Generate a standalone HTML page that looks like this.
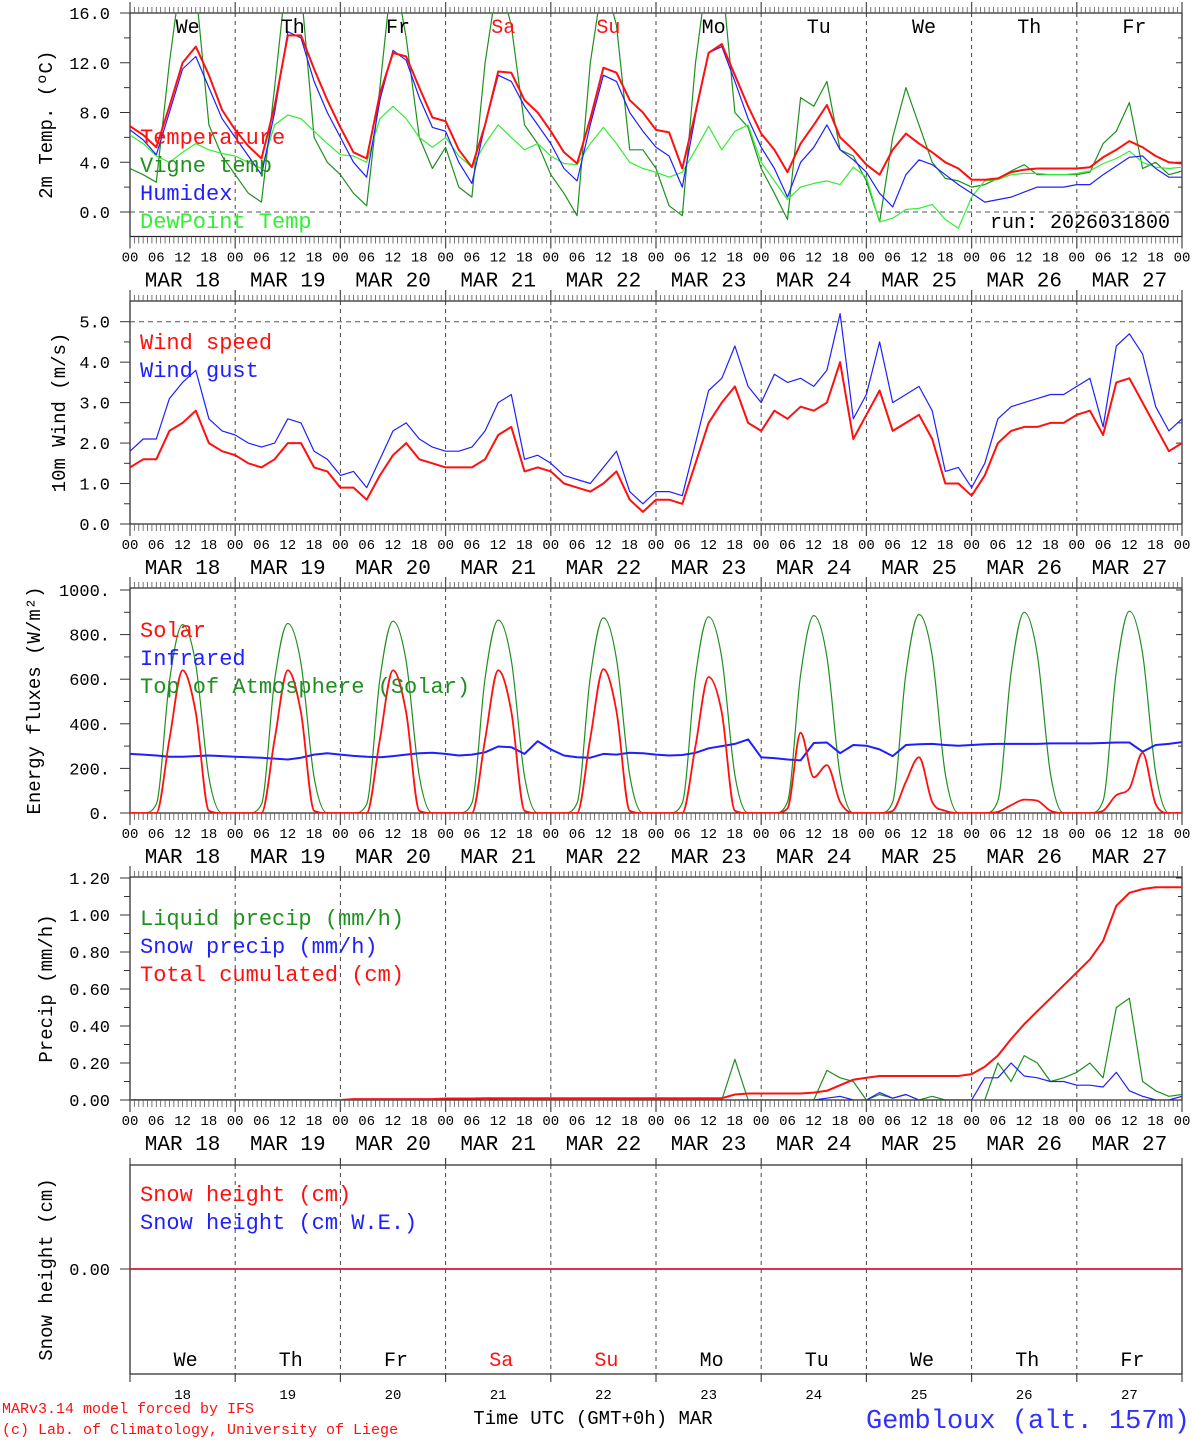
<!DOCTYPE html>
<html><head><meta charset="utf-8">
<style>
html,body{margin:0;padding:0;background:#fff;}
svg{display:block;font-family:"Liberation Mono",monospace;}
</style></head>
<body>
<svg id="chart" width="1194" height="1440" viewBox="0 0 1194 1440" xmlns="http://www.w3.org/2000/svg"></svg>
<script>
// ---------- data (3-hourly, 81 points, hour = 3*i from MAR 18 00 UTC) ----------
const dayNames = ["We","Th","Fr","Sa","Su","Mo","Tu","We","Th","Fr"];
const dayDates = ["18","19","20","21","22","23","24","25","26","27"];
const hourLabels = ["00","06","12","18"];
const tempTicks = [0,4,8,12,16];
const windTicks = [0,1,2,3,4,5];
const fluxTicks = [0,200,400,600,800,1000];
const precipTicks = [0,0.2,0.4,0.6,0.8,1.0,1.2];

const temperature = [6.9,6.2,5.2,8.5,12.0,13.3,11.0,8.2, 6.6,5.3,4.3,8.5,14.2,14.2,11.5,9.0, 6.8,4.8,4.3,9.5,12.8,12.5,10.0,7.6, 7.3,5.0,3.6,7.0,11.3,11.2,9.0,8.0, 6.5,4.8,3.9,7.5,11.6,11.2,9.0,8.0, 6.6,6.4,3.5,8.0,12.8,13.5,11.0,8.5, 6.3,5.0,3.2,5.5,7.0,8.6,6.0,5.0, 3.8,3.0,5.0,6.3,5.5,4.8,4.0,3.5, 2.6,2.6,2.7,3.2,3.4,3.5,3.5,3.5, 3.5,3.6,4.4,5.0,5.7,5.2,4.5,4.0,3.9];
const vigne = [3.5,3.0,2.4,12,20,18,7,4.5, 3,1.5,0.8,10,20,18,6,4, 3,1.5,0.5,10,20,14,6,3.5, 5.2,2,1.2,12,19,15,7,5.5, 3,1.5,-0.3,12,19,15,5,5, 3.5,0.5,-0.3,12,20,19,8,6.8, 3.5,1.5,-0.6,9.2,8.5,10.5,5,4.5, 2.5,-0.8,6,10,7,4,2.7,2.5, 2.0,2.2,2.7,3.3,3.8,3.0,3.0,3.0, 3.0,3.2,5.5,6.5,8.8,3.5,4.0,3.0,3.3];
const humidex = [6.6,5.8,4.6,8.0,11.5,12.5,10.0,7.5, 6.0,4.5,3.0,8.0,14.5,14.0,10.5,8.0, 6.0,4.0,2.8,9.0,13.0,12.2,9.2,6.8, 6.5,4.0,2.3,7.0,11.0,10.5,8.5,7.0, 5.5,3.5,2.5,7.0,11.0,10.5,8.0,6.5, 5.2,4.5,2.0,7.8,12.8,13.3,10.5,7.5, 5.2,3.5,1.2,4.0,5.2,7.0,5.0,4.2, 3.2,1.5,0.4,3.0,4.2,3.8,3.0,2.2, 1.5,0.8,1.0,1.2,1.6,2.0,2.0,2.0, 2.2,2.2,3.0,3.7,4.4,4.5,3.5,2.8,2.8];
const dewpoint = [6.2,5.5,4.5,4.0,4.8,5.5,5.0,4.7, 4.5,4.0,3.5,7.0,7.8,7.5,6.5,5.5, 4.6,4.5,4.0,7.5,8.5,7.5,6.0,5.2, 6.0,4.5,3.6,5.5,7.0,6.0,5.0,5.5, 4.5,3.9,3.8,5.5,6.8,5.5,4.0,3.5, 3.2,2.8,3.2,5.0,6.9,5.0,6.5,7.0, 4.0,2.5,1.0,2.0,2.3,2.5,2.2,3.6, 2.8,-0.8,-0.5,0.2,0.3,0.6,-0.6,-1.3, 1.2,2.5,2.6,3.0,3.1,3.1,3.0,3.0, 3.1,3.3,3.9,4.3,4.9,4.0,3.6,3.5,3.6];

const windSpeed = [1.4,1.6,1.6,2.3,2.5,2.8,2.0,1.8, 1.7,1.5,1.4,1.6,2.0,2.0,1.4,1.3, 0.9,0.9,0.6,1.2,1.7,2.0,1.6,1.5, 1.4,1.4,1.4,1.6,2.2,2.4,1.3,1.4, 1.3,1.0,0.9,0.8,1.0,1.3,0.6,0.3, 0.6,0.6,0.5,1.5,2.5,3.0,3.4,2.5, 2.3,2.8,2.6,2.9,2.8,3.0,4.0,2.1, 2.7,3.3,2.3,2.5,2.7,2.1,1.0,1.0, 0.7,1.2,2.0,2.3,2.4,2.4,2.5,2.5, 2.7,2.8,2.2,3.5,3.6,3.0,2.4,1.8,2.0];
const windGust = [1.8,2.1,2.1,3.1,3.5,3.8,2.6,2.3, 2.2,2.0,1.9,2.0,2.6,2.5,1.8,1.6, 1.2,1.3,0.9,1.6,2.3,2.5,2.1,1.9, 1.8,1.8,1.9,2.3,3.0,3.2,1.6,1.7, 1.5,1.2,1.1,1.0,1.4,1.8,0.8,0.5, 0.8,0.8,0.7,2.0,3.3,3.6,4.4,3.4, 3.0,3.7,3.5,3.6,3.4,3.8,5.2,2.6, 3.2,4.5,3.0,3.2,3.4,2.8,1.3,1.4, 0.9,1.5,2.6,2.9,3.0,3.1,3.2,3.2, 3.4,3.6,2.4,4.4,4.7,4.2,2.9,2.3,2.6];

const solar = [0,0,0,330,640,450,10,0, 0,0,0,330,640,450,10,0, 0,0,0,330,640,450,10,0, 0,0,0,330,640,455,10,0, 0,0,0,335,645,455,10,0, 0,0,0,300,610,450,10,0, 0,0,20,360,160,215,50,0, 0,0,10,140,250,50,10,0, 0,0,5,35,60,55,10,0, 0,0,10,80,110,270,40,0,0];
const infrared = [265,262,258,252,252,255,258,255, 252,250,248,244,240,248,262,268, 262,256,252,250,255,262,268,270, 265,258,262,272,298,295,265,322, 285,258,250,248,265,262,270,268, 262,258,260,270,290,300,310,330, 250,246,240,236,314,316,268,305, 302,285,255,305,308,310,305,302, 305,308,310,310,310,310,312,312, 312,312,314,316,316,275,305,310,318];
const toa = [0,0,40,590,845,665,160,0, 0,0,40,595,850,670,160,0, 0,0,40,600,860,680,165,0, 0,0,45,605,865,685,165,0, 0,0,45,610,875,690,170,0, 0,0,45,615,880,695,170,0, 0,0,50,620,885,700,170,0, 0,0,50,625,890,705,175,0, 0,0,55,630,900,710,175,0, 0,0,55,635,905,715,180,0,0];

const liquid = [0,0,0,0,0,0,0,0, 0,0,0,0,0,0,0,0, 0,0,0,0,0,0,0,0, 0,0,0,0.01,0,0,0,0, 0,0,0,0,0,0,0,0, 0,0,0,0,0,0,0.22,0, 0,0,0,0,0,0.16,0.12,0.1, 0,0.03,0.01,0.03,0,0.02,0,0, 0,0,0.2,0.1,0.24,0.2,0.1,0.12, 0.15,0.2,0.12,0.5,0.55,0.1,0.05,0.02,0.03];
const snowPrecip = [0,0,0,0,0,0,0,0, 0,0,0,0,0,0,0,0, 0,0,0,0,0,0,0,0, 0,0,0,0,0,0,0,0, 0,0,0,0,0,0,0,0, 0,0,0,0,0,0,0,0, 0,0,0,0,0,0.01,0.02,0, 0,0.04,0.01,0.03,0,0,0,0, 0,0.12,0.12,0.2,0.13,0.12,0.1,0.1, 0.08,0.08,0.07,0.15,0.05,0.02,0,0,0.02];
const cumulated = [0,0,0,0,0,0,0,0, 0,0,0,0,0,0,0,0, 0,0.005,0.005,0.005,0.005,0.005,0.005,0.005, 0.008,0.008,0.008,0.01,0.01,0.01,0.01,0.01, 0.01,0.01,0.01,0.01,0.01,0.01,0.01,0.01, 0.01,0.01,0.01,0.01,0.01,0.01,0.03,0.035, 0.035,0.035,0.035,0.035,0.04,0.05,0.08,0.11, 0.12,0.13,0.13,0.13,0.13,0.13,0.13,0.13, 0.14,0.18,0.24,0.33,0.41,0.48,0.55,0.62, 0.69,0.76,0.86,1.05,1.12,1.14,1.15,1.15,1.15];
const snowHeight = new Array(81).fill(0);
const snowHeightWE = new Array(81).fill(0);

// ---------- layout ----------
const NS = "http://www.w3.org/2000/svg";
const svg = document.getElementById("chart");
const X0 = 130, X1 = 1182, DAYW = (X1 - X0) / 10;
const xOf = h => X0 + h * DAYW / 24;
function lin(v0, p0, v1, p1){ return v => p0 + (v - v0) * (p1 - p0) / (v1 - v0); }
const panels = [
  {top:13,  bottom:236.5, y:lin(0,212,16,13)},
  {top:301, bottom:524,   y:lin(0,524,5,321.7)},
  {top:588, bottom:813,   y:lin(0,813,1000,590)},
  {top:877, bottom:1100,  y:lin(0,1100,1.2,878)},
  {top:1165,bottom:1374,  y:lin(0,1269,1,1169)}
];
function el(tag, attrs, parent){ const e=document.createElementNS(NS,tag); for(const k in attrs) e.setAttribute(k,attrs[k]); (parent||svg).appendChild(e); return e; }
function txt(s, attrs, parent){ const e=el("text",attrs,parent); e.textContent=s; return e; }

const defs = el("defs",{});
panels.forEach((p,i)=>{ const c=el("clipPath",{id:"clip"+i},defs); el("rect",{x:X0,y:p.top,width:X1-X0,height:p.bottom-p.top},c); });

function linePath(vals, yf){ return vals.map((v,i)=>(i?"L":"M")+xOf(3*i).toFixed(1)+" "+yf(v).toFixed(1)).join(" "); }
function monoPath(vals, yf){
  const px = vals.map((v,i)=>xOf(3*i)), py = vals.map(v=>yf(v)); const n=px.length;
  const s=[], m=new Array(n);
  for(let i=0;i<n-1;i++) s.push((py[i+1]-py[i])/(px[i+1]-px[i]));
  m[0]=s[0]; m[n-1]=s[n-2];
  for(let i=1;i<n-1;i++) m[i]= s[i-1]*s[i]<=0 ? 0 : (s[i-1]+s[i])/2;
  for(let i=0;i<n-1;i++){
    if(s[i]===0){ m[i]=0; m[i+1]=0; continue; }
    const a=m[i]/s[i], b=m[i+1]/s[i], h=a*a+b*b;
    if(h>9){ const t=3/Math.sqrt(h); m[i]=t*a*s[i]; m[i+1]=t*b*s[i]; }
  }
  let d="M"+px[0].toFixed(1)+" "+py[0].toFixed(1);
  for(let i=0;i<n-1;i++){ const dx=(px[i+1]-px[i])/3;
    d+=` C${(px[i]+dx).toFixed(1)} ${(py[i]+m[i]*dx).toFixed(1)} ${(px[i+1]-dx).toFixed(1)} ${(py[i+1]-m[i+1]*dx).toFixed(1)} ${px[i+1].toFixed(1)} ${py[i+1].toFixed(1)}`; }
  return d;
}

// ---------- frames, grid, ticks ----------
panels.forEach((p,pi)=>{
  const g = el("g",{});
  
  
  for(let d=1; d<10; d++){
    const l = el("line",{x1:xOf(24*d),x2:xOf(24*d),y1:p.top,y2:p.bottom,stroke:"#444","stroke-width":1,"stroke-dasharray":"4,4"},g);
    
    
  }
  el("rect",{x:X0,y:p.top,width:X1-X0,height:p.bottom-p.top,fill:"none",stroke:"#222","stroke-width":1.2},g);
  if(pi<4){
    for(let h=0; h<=240; h++){
      const major = h%24===0;
      el("line",{x1:xOf(h),x2:xOf(h),y1:p.top-(major?11:6),y2:p.top,stroke:"#555","stroke-width":major?1.3:0.8},g);
      el("line",{x1:xOf(h),x2:xOf(h),y1:p.bottom,y2:p.bottom+(major?12:7),stroke:"#555","stroke-width":major?1.3:0.8},g);
    }
    for(let d=0; d<=10; d++){
      hourLabels.forEach((lab,k)=>{
        if(d===10 && k>0) return;
        const t = txt(lab,{x:xOf(24*d+6*k),y:p.bottom+25,"font-size":14,"text-anchor":"middle",fill:"#000"},g);
        
        
      });
    }
    dayDates.forEach((dd,d)=>{
      const t = txt("MAR "+dd,{x:xOf(24*d+12),y:p.bottom+50,"font-size":21,"text-anchor":"middle",fill:"#000"},g);
      
      
    });
  } else {
    for(let d=0; d<=10; d++){
      el("line",{x1:xOf(24*d),x2:xOf(24*d),y1:p.top-7,y2:p.top,stroke:"#444","stroke-width":1.2},g);
      el("line",{x1:xOf(24*d),x2:xOf(24*d),y1:p.bottom,y2:p.bottom+8,stroke:"#444","stroke-width":1.2},g);
    }
  }
});

function yAxis(pi, ticks, fmt, minorStep, title, titleX){
  const p = panels[pi];
  const g = el("g",{});
  
  
  ticks.forEach(v=>{
    const y=p.y(v);
    el("line",{x1:X0-10,x2:X0,y1:y,y2:y,stroke:"#333","stroke-width":1},g);
    el("line",{x1:X1-6,x2:X1,y1:y,y2:y,stroke:"#333","stroke-width":1},g);
    const t = txt(fmt(v),{x:X0-20,y:y+6,"font-size":17,"text-anchor":"end",fill:"#000"},g);
    
    
  });
  if(minorStep){
    for(let k=0;k<ticks.length-1;k++){ const y=p.y(ticks[k]+minorStep);
      el("line",{x1:X0-6,x2:X0,y1:y,y2:y,stroke:"#333","stroke-width":1},g);
      el("line",{x1:X1-4,x2:X1,y1:y,y2:y,stroke:"#333","stroke-width":1},g); }
  }
  const cy=(p.top+p.bottom)/2;
  const t = txt(title,{x:titleX,y:cy,"font-size":19,"text-anchor":"middle",fill:"#000",transform:`rotate(-90 ${titleX} ${cy})`},g);
  
  
}
yAxis(0,tempTicks,v=>v.toFixed(1),2,"2m Temp. (ºC)",52);
yAxis(1,windTicks,v=>v.toFixed(1),0.5,"10m Wind (m/s)",65);
yAxis(2,fluxTicks,v=>v.toFixed(0)+".",100,"Energy fluxes (W/m²)",40);
yAxis(3,precipTicks,v=>v.toFixed(2),0.1,"Precip (mm/h)",52);
yAxis(4,[0],v=>v.toFixed(2),0,"Snow height (cm)",52);

el("line",{x1:X0,x2:X1,y1:panels[0].y(0),y2:panels[0].y(0),stroke:"#555","stroke-dasharray":"5,4","stroke-width":1});
el("line",{x1:X0,x2:X1,y1:panels[1].y(5),y2:panels[1].y(5),stroke:"#555","stroke-dasharray":"5,4","stroke-width":1});

function series(pi, vals, color, w, name, smooth){
  const p = el("path",{d:(smooth?monoPath:linePath)(vals,panels[pi].y),fill:"none",stroke:color,"stroke-width":w,"clip-path":`url(#clip${pi})`,"stroke-linejoin":"round"});
  
  
}
series(0,vigne,"#1f8f1f",1.2,"vigne-temp-line");
series(0,dewpoint,"#33ee33",1.2,"dewpoint-line");
series(0,humidex,"#1f1fff",1.2,"humidex-line");
series(0,temperature,"#ff1010",2,"temperature-line");
series(1,windGust,"#1f1fff",1.2,"wind-gust-line");
series(1,windSpeed,"#ff1010",2,"wind-speed-line");
series(2,toa,"#1f8f1f",1.2,"toa-solar-line",true);
series(2,infrared,"#1f1fff",2,"infrared-line");
series(2,solar,"#ff1010",1.8,"solar-line",true);
series(3,liquid,"#1f8f1f",1.2,"liquid-precip-line");
series(3,snowPrecip,"#1f1fff",1.2,"snow-precip-line");
series(3,cumulated,"#ff1010",2,"total-cumulated-line");
series(4,snowHeightWE,"#1f1fff",1.5,"snow-height-we-line");
series(4,snowHeight,"#ff1010",1.5,"snow-height-line");

function legend(items, y0){
  items.forEach((it,k)=>{
    const t = txt(it[0],{x:140,y:y0+28*k,"font-size":22,fill:it[1]});
    
    
  });
}
legend([["Temperature","#ff1010","legend-temperature"],["Vigne temp","#1f8f1f","legend-vigne-temp"],["Humidex","#1f1fff","legend-humidex"],["DewPoint Temp","#33ee33","legend-dewpoint"]],144);
legend([["Wind speed","#ff1010","legend-wind-speed"],["Wind gust","#1f1fff","legend-wind-gust"]],349);
legend([["Solar","#ff1010","legend-solar"],["Infrared","#1f1fff","legend-infrared"],["Top of Atmosphere (Solar)","#1f8f1f","legend-toa"]],637);
legend([["Liquid precip (mm/h)","#1f8f1f","legend-liquid-precip"],["Snow precip (mm/h)","#1f1fff","legend-snow-precip"],["Total cumulated (cm)","#ff1010","legend-total-cumulated"]],925);
legend([["Snow height (cm)","#ff1010","legend-snow-height"],["Snow height (cm W.E.)","#1f1fff","legend-snow-height-we"]],1201);

dayNames.forEach((dn,d)=>{
  const c = (d===3||d===4) ? "#ff1010" : "#000";
  const t1 = txt(dn,{x:xOf(24*d+12)+5,y:33,"font-size":20,"text-anchor":"middle",fill:c});
  
  
  const t2 = txt(dn,{x:xOf(24*d+12)+3,y:1366,"font-size":20,"text-anchor":"middle",fill:c});
  
  
  const t3 = txt(dayDates[d],{x:xOf(24*d+12),y:1399,"font-size":14,"text-anchor":"middle",fill:"#000"});
  
  
});

const run = txt("run: 2026031800",{x:1170,y:228,"font-size":20,"text-anchor":"end",fill:"#000"});


const xt = txt("Time UTC (GMT+0h) MAR",{x:593,y:1424,"font-size":19,"text-anchor":"middle",fill:"#000"});


const c1 = txt("MARv3.14 model forced by IFS",{x:2,y:1413,"font-size":15,fill:"#ff1010"});


const c2 = txt("(c) Lab. of Climatology, University of Liege",{x:2,y:1434,"font-size":15,fill:"#ff1010"});


const loc = txt("Gembloux (alt. 157m)",{x:1190,y:1428,"font-size":27,"text-anchor":"end",fill:"#3030ff"});


</script>
</body></html>
